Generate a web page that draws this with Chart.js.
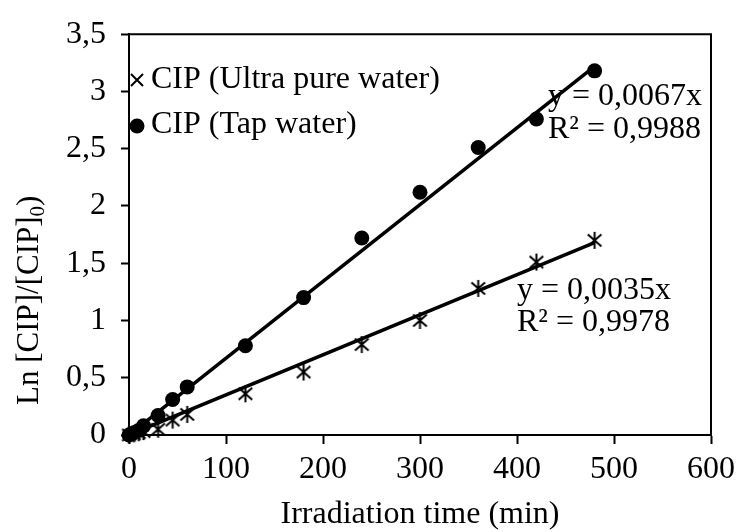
<!DOCTYPE html>
<html>
<head>
<meta charset="utf-8">
<script src="https://cdn.jsdelivr.net/npm/chart.js@4/dist/chart.umd.min.js"></script>
<style>
  html, body { margin: 0; padding: 0; background: #fff; }
  #chart { display: block; }
</style>
</head>
<body>
<canvas id="chart" width="741" height="532"></canvas>
<script>
// irradiation time (min)
const timeMin = [0, 5, 10, 15, 30, 45, 60, 120, 180, 240, 300, 360, 420, 480];
// ln [CIP]/[CIP]0 values
const ultraPure = [0, 0.01, 0.02, 0.03, 0.05, 0.13, 0.18, 0.36, 0.55, 0.79, 1.0, 1.28, 1.51, 1.70];
const tapWater = [0, 0.02, 0.04, 0.08, 0.17, 0.31, 0.42, 0.78, 1.20, 1.72, 2.12, 2.51, 2.76, 3.18];
// linear fits (start and end)
const fitX = [0, 480];
const fitUltra = [0, 1.68];
const fitTap = [0, 3.22];
const seriesNames = ['CIP (Ultra pure water)', 'CIP (Tap water)'];
const fitUltraText = ['y = 0,0035x', 'R² = 0,9978'];
const fitTapText = ['y = 0,0067x', 'R² = 0,9988'];
const xTitle = 'Irradiation time (min)';

const FONT = '"Liberation Serif", "Times New Roman", serif';

// star marker like excel (x + vertical bar)
function makeStar(size, lw) {
    const c = document.createElement('canvas');
    c.width = size;
    c.height = size;
    const g = c.getContext('2d');
    const m = size / 2;
    const r = size / 2 - 1;
    g.strokeStyle = '#000';
    g.lineWidth = lw;
    g.beginPath();
    g.moveTo(m - r * 0.8, m - r * 0.7);
    g.lineTo(m + r * 0.8, m + r * 0.7);
    g.moveTo(m + r * 0.8, m - r * 0.7);
    g.lineTo(m - r * 0.8, m + r * 0.7);
    g.moveTo(m, m - r);
    g.lineTo(m, m + r);
    g.stroke();
    return c;
}
const starImg = makeStar(19, 2);

const toPts = (xs, ys) => xs.map((x, i) => ({ x: x, y: ys[i] }));

// frame, legend, annotations, y title
const extras = {
    id: 'extras',
    afterDraw(chart) {
        const ctx = chart.ctx;
        const a = chart.chartArea;
        ctx.save();
        ctx.strokeStyle = '#000';
        ctx.lineWidth = 2;
        ctx.beginPath();
        ctx.moveTo(a.left, a.top);
        ctx.lineTo(a.right, a.top);
        ctx.lineTo(a.right, a.bottom);
        ctx.stroke();

        ctx.fillStyle = '#000';
        ctx.font = '32px ' + FONT;
        ctx.textBaseline = 'middle';
        ctx.textAlign = 'left';

        // legend
        ctx.lineWidth = 2;
        ctx.beginPath();
        ctx.moveTo(131, 74); ctx.lineTo(143, 86);
        ctx.moveTo(143, 74); ctx.lineTo(131, 86);
        ctx.stroke();
        ctx.fillText(seriesNames[0], 151, 80);
        ctx.beginPath();
        ctx.arc(137, 126, 7.5, 0, Math.PI * 2);
        ctx.fill();
        ctx.fillText(seriesNames[1], 151, 125);

        // trend line equations
        ctx.fillText(fitTapText[0], 548, 97);
        ctx.fillText(fitTapText[1], 548, 130);
        ctx.fillText(fitUltraText[0], 517, 291);
        ctx.fillText(fitUltraText[1], 517, 323);

        // x title
        ctx.textAlign = 'center';
        ctx.fillText(xTitle, (a.left + a.right) / 2, 515);

        // y title with subscript
        ctx.font = '31px ' + FONT;
        ctx.translate(30, 405);
        ctx.rotate(-Math.PI / 2);
        ctx.textAlign = 'left';
        const p1 = 'Ln [CIP]/[CIP]';
        ctx.fillText(p1, 0, 0);
        let w = ctx.measureText(p1).width;
        ctx.font = '21px ' + FONT;
        ctx.fillText('0', w, 8);
        w += ctx.measureText('0').width;
        ctx.font = '31px ' + FONT;
        ctx.fillText(')', w, 0);
        ctx.restore();
    }
};

new Chart(document.getElementById('chart'), {
    type: 'scatter',
    data: {
        datasets: [
            {
                label: seriesNames[0],
                data: toPts(timeMin, ultraPure),
                pointStyle: starImg,
                pointRadius: 8,
                showLine: false,
                clip: false,
                order: 1
            },
            {
                label: seriesNames[1],
                data: toPts(timeMin, tapWater),
                pointStyle: 'circle',
                pointRadius: 7.5,
                backgroundColor: '#000',
                borderColor: '#000',
                borderWidth: 0,
                showLine: false,
                clip: false,
                order: 1
            },
            {
                label: 'fit ultra',
                data: toPts(fitX, fitUltra),
                showLine: true,
                borderColor: '#000',
                borderWidth: 3.5,
                pointRadius: 0,
                order: 2
            },
            {
                label: 'fit tap',
                data: toPts(fitX, fitTap),
                showLine: true,
                borderColor: '#000',
                borderWidth: 3.5,
                pointRadius: 0,
                order: 2
            }
        ]
    },
    options: {
        responsive: false,
        animation: false,
        layout: { padding: { top: 34, right: 25, left: 0, bottom: 0 } },
        plugins: {
            legend: { display: false },
            tooltip: { enabled: false }
        },
        scales: {
            x: {
                type: 'linear',
                min: 0,
                max: 600,
                afterFit: s => { s.height = 97; },
                ticks: {
                    stepSize: 100,
                    color: '#000',
                    font: { family: FONT, size: 32 },
                    padding: 6,
                    maxRotation: 0
                },
                grid: {
                    drawOnChartArea: false,
                    drawTicks: true,
                    tickLength: 9,
                    tickColor: '#000',
                    tickWidth: 2
                },
                border: { display: true, color: '#000', width: 2 }
            },
            y: {
                min: 0,
                max: 3.5,
                afterFit: s => { s.width = 129; },
                ticks: {
                    stepSize: 0.5,
                    color: '#000',
                    font: { family: FONT, size: 32 },
                    padding: 15,
                    callback: v => String(v).replace('.', ',')
                },
                grid: {
                    drawOnChartArea: false,
                    drawTicks: true,
                    tickLength: 8,
                    tickColor: '#000',
                    tickWidth: 2
                },
                border: { display: true, color: '#000', width: 2 }
            }
        }
    },
    plugins: [extras]
});
</script>
</body>
</html>
